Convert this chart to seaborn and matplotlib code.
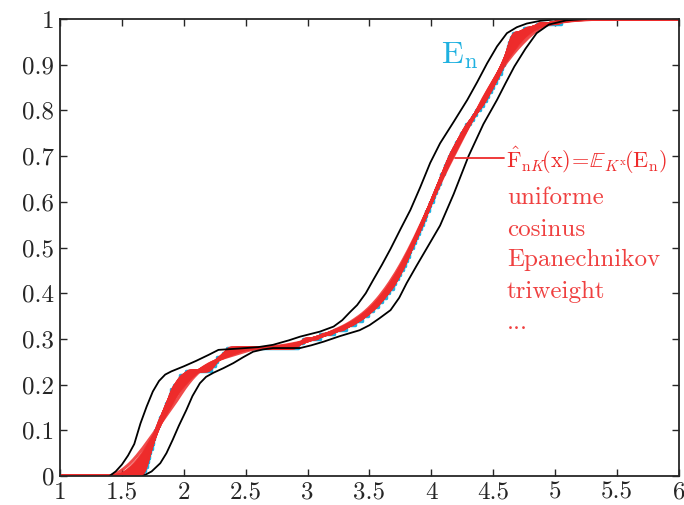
import numpy as np
import pandas as pd
import seaborn as sns
import matplotlib.pyplot as plt

sns.set_style('ticks')
plt.rcParams['font.family'] = ['cmr10', 'DejaVu Serif']
plt.rcParams['mathtext.fontset'] = 'cm'
plt.rcParams['axes.unicode_minus'] = False

sample = [1.67, 1.69, 1.70, 1.71, 1.72, 1.73, 1.74, 1.75, 1.76, 1.77,
          1.78, 1.80, 1.81, 1.83, 1.85, 1.86, 1.88, 1.89, 1.90, 1.92,
          1.95, 1.97, 2.02, 2.22, 2.25, 2.27, 2.32, 2.35, 2.92, 2.96,
          3.10, 3.21, 3.31, 3.38, 3.44, 3.49, 3.53, 3.57, 3.60, 3.63,
          3.66, 3.69, 3.71, 3.73, 3.75, 3.77, 3.79, 3.80, 3.82, 3.83,
          3.85, 3.87, 3.88, 3.90, 3.92, 3.93, 3.95, 3.96, 3.98, 3.99,
          4.01, 4.02, 4.04, 4.05, 4.07, 4.08, 4.10, 4.11, 4.13, 4.14,
          4.16, 4.18, 4.20, 4.22, 4.24, 4.26, 4.28, 4.31, 4.34, 4.36,
          4.39, 4.42, 4.44, 4.46, 4.48, 4.50, 4.52, 4.54, 4.56, 4.57,
          4.59, 4.60, 4.61, 4.62, 4.63, 4.64, 4.66, 4.75, 4.85, 5.05]

kernels = ['uniforme', 'cosinus', 'Epanechnikov', 'triweight']
bandwidths = [0.04, 0.09, 0.14, 0.19, 0.24, 0.30]

# enveloppes (courbes noires)
upper_x = [1.40, 1.45, 1.50, 1.55, 1.60, 1.65, 1.70, 1.75, 1.80, 1.85, 1.90, 2.00,
           2.10, 2.20, 2.28, 2.45, 2.60, 2.72, 2.85, 2.94, 3.10, 3.21, 3.28, 3.34,
           3.40, 3.47, 3.53, 3.60, 3.67, 3.75, 3.83, 3.91, 3.99, 4.07, 4.18, 4.29,
           4.37, 4.45, 4.53, 4.61, 4.69, 4.77, 4.88, 5.00, 5.10]
upper_y = [0.0, 0.01, 0.025, 0.045, 0.07, 0.115, 0.152, 0.185, 0.208, 0.222, 0.229, 0.24,
           0.252, 0.265, 0.276, 0.279, 0.282, 0.287, 0.297, 0.305, 0.316, 0.327, 0.341, 0.358,
           0.374, 0.40, 0.429, 0.462, 0.497, 0.54, 0.582, 0.632, 0.685, 0.728, 0.775, 0.823,
           0.862, 0.903, 0.94, 0.969, 0.982, 0.99, 0.996, 0.999, 1.0]
lower_x = [1.67, 1.74, 1.81, 1.86, 1.91, 1.96, 2.02, 2.07, 2.13, 2.18, 2.24, 2.32,
           2.40, 2.48, 2.56, 2.64, 2.72, 2.94, 3.03, 3.13, 3.26, 3.42, 3.50, 3.58,
           3.67, 3.74, 3.80, 3.88, 3.96, 4.07, 4.18, 4.30, 4.42, 4.53, 4.60, 4.67,
           4.76, 4.85, 4.95, 5.09, 5.25]
lower_y = [0.0, 0.01, 0.028, 0.05, 0.079, 0.11, 0.144, 0.175, 0.203, 0.217, 0.226, 0.236,
           0.247, 0.26, 0.272, 0.277, 0.28, 0.28, 0.286, 0.294, 0.306, 0.319, 0.33, 0.345,
           0.363, 0.39, 0.422, 0.46, 0.497, 0.548, 0.617, 0.70, 0.77, 0.823, 0.86, 0.896,
           0.935, 0.969, 0.988, 0.997, 1.0]

red = '#ee2b2b'
cyan = '#1fb1e0'


def kernel_cdf(name, u):
    u = np.clip(u, -1, 1)
    if name == 'uniforme':
        return (u + 1) / 2
    if name == 'cosinus':
        return (1 + np.sin(np.pi * u / 2)) / 2
    if name == 'Epanechnikov':
        return 0.5 + 0.75 * u - 0.25 * u ** 3
    return 0.5 + 35 / 32 * (u - u ** 3 + 3 * u ** 5 / 5 - u ** 7 / 7)


grid = np.linspace(1, 6, 1201)
xs = np.array(sample)
rows = []
for k in kernels:
    for h in bandwidths:
        F = kernel_cdf(k, (grid[:, None] - xs[None, :]) / h).mean(axis=1)
        rows.append(pd.DataFrame({'x': grid, 'F': F, 'courbe': f'{k}_{h}'}))
df = pd.concat(rows, ignore_index=True)

fig = plt.figure(figsize=(6.84, 5.05), dpi=100)
ax = fig.add_axes([0.0877, 0.0574, 0.905, 0.905])

sns.ecdfplot(x=sample, color=cyan, linewidth=2.5, ax=ax)
sns.lineplot(data=df, x='x', y='F', units='courbe', estimator=None, color=red,
             linewidth=2.2, alpha=0.85, ax=ax)
ax.plot(upper_x, upper_y, color='black', linewidth=1.3)
ax.plot(lower_x, lower_y, color='black', linewidth=1.3)

ax.set_xlim(1, 6)
ax.set_ylim(0, 1)
xt = [1, 1.5, 2, 2.5, 3, 3.5, 4, 4.5, 5, 5.5, 6]
yt = [i / 10 for i in range(11)]
ax.set_xticks(xt)
ax.set_xticklabels([f'{v:g}' for v in xt])
ax.set_yticks(yt)
ax.set_yticklabels([f'{v:g}' for v in yt])
ax.tick_params(direction='in', length=5, width=1, top=True, right=True,
               labelsize=18, pad=4)
for s in ax.spines.values():
    s.set_linewidth(1.3)
ax.set_xlabel('')
ax.set_ylabel('')

ax.text(4.23, 0.92, r'$\mathrm{E}_\mathrm{n}$', color=cyan, fontsize=23,
        ha='center', va='center')
ax.plot([4.19, 4.59], [0.696, 0.696], color=red, linewidth=1.3)
ax.text(4.6, 0.69, r'$\hat{\mathrm{F}}_{\mathrm{n}K}\!(\mathrm{x})\!=\!\mathbb{E}_{K^\mathrm{x}}\!(\mathrm{E}_\mathrm{n})$',
        color=red, fontsize=16, ha='left', va='center')
for lab, yy in zip(kernels + ['...'], [0.608, 0.538, 0.473, 0.403, 0.335]):
    ax.text(4.61, yy, lab, color=red, fontsize=18, ha='left', va='center', alpha=0.9)

fig.savefig('out.png', dpi=100)
